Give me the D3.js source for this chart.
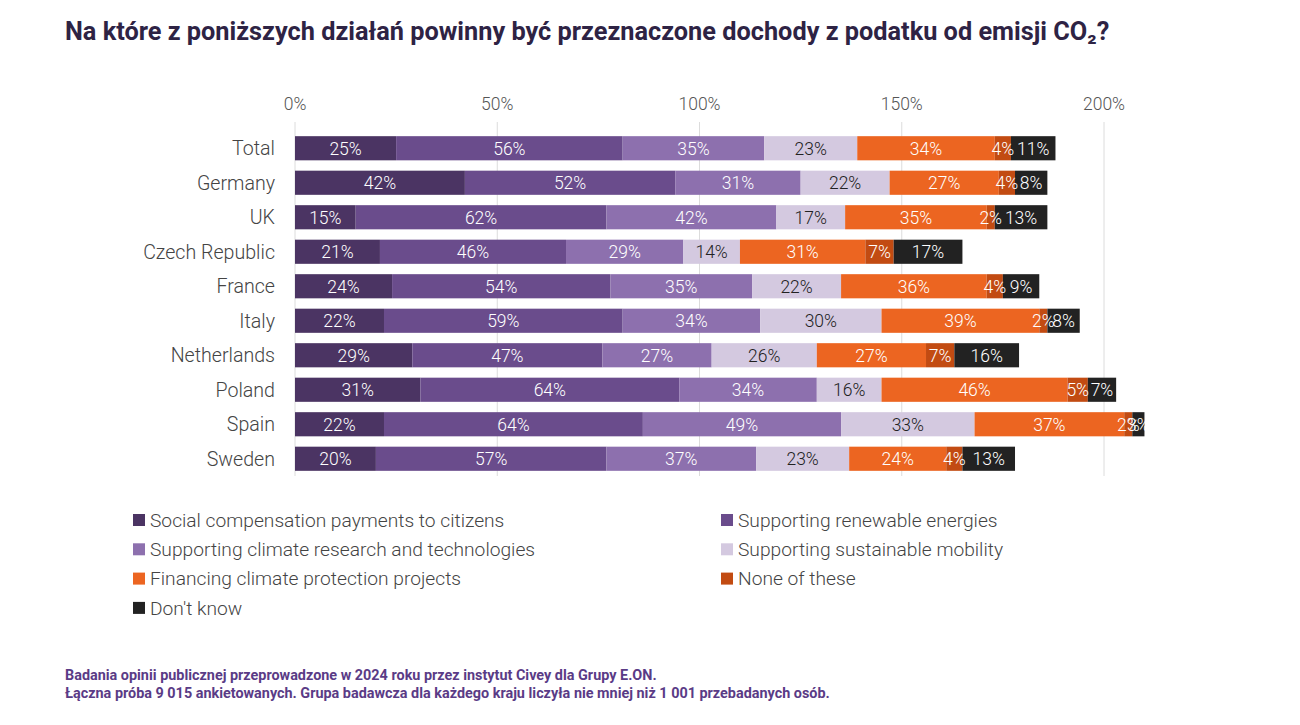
<!DOCTYPE html>
<html>
<head>
<meta charset="utf-8">
<script src="https://cdn.jsdelivr.net/npm/d3@7"></script>
<style>
  body { margin: 0; background: #fff; }
  #container { width: 1300px; height: 725px; }
</style>
</head>
<body>
<div id="container"></div>
<script>
const countries = ["Total", "Germany", "UK", "Czech Republic", "France", "Italy", "Netherlands", "Poland", "Spain", "Sweden"];
const seriesNames = [
  "Social compensation payments to citizens",
  "Supporting renewable energies",
  "Supporting climate research and technologies",
  "Supporting sustainable mobility",
  "Financing climate protection projects",
  "None of these",
  "Don't know"
];
const socialComp   = [25, 42, 15, 21, 24, 22, 29, 31, 22, 20];
const renewables   = [56, 52, 62, 46, 54, 59, 47, 64, 64, 57];
const research     = [35, 31, 42, 29, 35, 34, 27, 34, 49, 37];
const mobility     = [23, 22, 17, 14, 22, 30, 26, 16, 33, 23];
const projects     = [34, 27, 35, 31, 36, 39, 27, 46, 37, 24];
const noneOfThese  = [4, 4, 2, 7, 4, 2, 7, 5, 2, 4];
const dontKnow     = [11, 8, 13, 17, 9, 8, 16, 7, 3, 13];
const tickValues = [0, 50, 100, 150, 200];

const seriesValues = [socialComp, renewables, research, mobility, projects, noneOfThese, dontKnow];
const colors = ["#4b3463", "#6a4c8c", "#8d70ae", "#d4c9e0", "#ec6521", "#c24b12", "#222222"];
const labelColors = ["#fff", "#fff", "#fff", "#222", "#fff", "#fff", "#fff"];

const chart = () => {
  const width = 1300, height = 725;
  const svg = d3.create("svg")
    .attr("width", width)
    .attr("height", height)
    .attr("font-family", "Roboto, sans-serif");

  svg.append("text")
    .attr("x", 65).attr("y", 40)
    .attr("font-size", 25.3).attr("font-weight", 700)
    .attr("fill", "#2e2344")
    .text("Na które z poniższych działań powinny być przeznaczone dochody z podatku od emisji CO₂?");

  const x = d3.scaleLinear().domain([0, 200]).range([295, 1104]);
  const y = d3.scaleBand().domain(countries).range([131, 476]).paddingInner(0.3).paddingOuter(0.15);

  // grid
  svg.append("g").selectAll("line")
    .data(tickValues)
    .join("line")
    .attr("x1", d => x(d)).attr("x2", d => x(d))
    .attr("y1", 122).attr("y2", 476)
    .attr("stroke", "#dcdcdc").attr("stroke-width", 1);

  svg.append("g").selectAll("text")
    .data(tickValues)
    .join("text")
    .attr("x", d => x(d)).attr("y", 110)
    .attr("text-anchor", "middle")
    .attr("font-size", 17.5).attr("font-weight", 300).attr("fill", "#555")
    .text(d => d + "%");

  // category labels
  svg.append("g").selectAll("text")
    .data(countries)
    .join("text")
    .attr("x", 275)
    .attr("y", d => y(d) + y.bandwidth() / 2)
    .attr("dy", "0.35em")
    .attr("text-anchor", "end")
    .attr("font-size", 19.6).attr("font-weight", 300).attr("fill", "#444")
    .text(d => d);

  const rows = countries.map((c, i) => {
    const obj = { country: c };
    seriesNames.forEach((s, k) => obj[s] = seriesValues[k][i]);
    return obj;
  });
  const stacked = d3.stack().keys(seriesNames)(rows);

  const layers = svg.append("g").selectAll("g")
    .data(stacked)
    .join("g")
    .attr("fill", (d, k) => colors[k]);

  layers.selectAll("rect")
    .data(d => d)
    .join("rect")
    .attr("x", d => x(d[0]))
    .attr("y", d => y(d.data.country))
    .attr("width", d => x(d[1]) - x(d[0]))
    .attr("height", y.bandwidth());

  const labels = svg.append("g").selectAll("g")
    .data(stacked)
    .join("g")
    .attr("fill", (d, k) => labelColors[k]);

  labels.selectAll("text")
    .data(d => d)
    .join("text")
    .attr("x", d => (x(d[0]) + x(d[1])) / 2)
    .attr("y", d => y(d.data.country) + y.bandwidth() / 2)
    .attr("dy", "0.36em")
    .attr("text-anchor", "middle")
    .attr("font-size", 17.5).attr("font-weight", 300)
    .text(d => (d[1] - d[0]) + "%");

  // legend
  const legend = svg.append("g").selectAll("g")
    .data(seriesNames)
    .join("g")
    .attr("transform", (d, i) => `translate(${i % 2 === 0 ? 133 : 721},${520 + Math.floor(i / 2) * 29.3})`);
  legend.append("rect")
    .attr("x", 0).attr("y", -6).attr("width", 12).attr("height", 12)
    .attr("fill", (d, i) => colors[i]);
  legend.append("text")
    .attr("x", 17).attr("dy", "0.35em")
    .attr("font-size", 19.2).attr("font-weight", 300).attr("fill", "#444")
    .text(d => d);

  const foot = svg.append("g")
    .attr("font-size", 14.4).attr("font-weight", 700).attr("fill", "#5a3b86");
  foot.append("text").attr("x", 65).attr("y", 680)
    .text("Badania opinii publicznej przeprowadzone w 2024 roku przez instytut Civey dla Grupy E.ON.");
  foot.append("text").attr("x", 65).attr("y", 698)
    .text("Łączna próba 9 015 ankietowanych. Grupa badawcza dla każdego kraju liczyła nie mniej niż 1 001 przebadanych osób.");

  return svg.node();
};

const container = document.getElementById("container");
container.innerHTML = '';
container.appendChild(chart());
</script>
</body>
</html>
